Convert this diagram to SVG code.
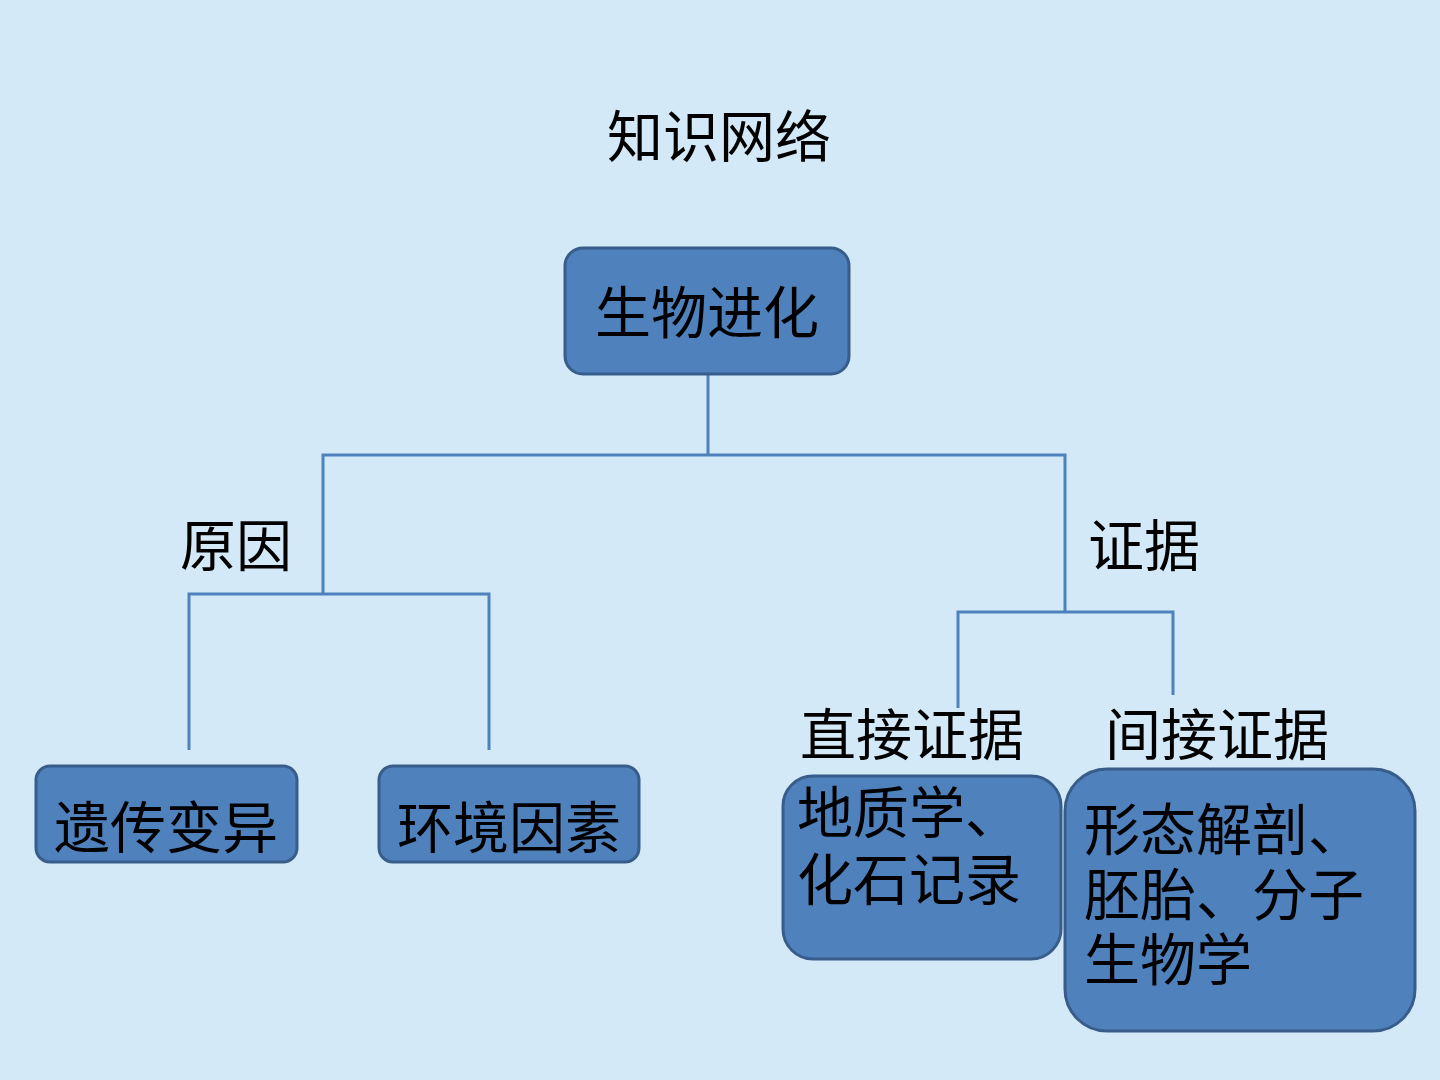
<svg xmlns="http://www.w3.org/2000/svg" width="1440" height="1080" viewBox="0 0 1440 1080">
<defs>
<style>
.bg{fill:#d3e9f7}
.box{fill:#4f81bd;stroke:#385d8a;stroke-width:3}
.t{font-family:"Noto Sans CJK SC","Noto Sans",sans-serif;font-size:56px;fill:#000}
.ln{stroke:#4f81bd;stroke-width:3;fill:none}
</style>
<pattern id="tex" width="6" height="6" patternUnits="userSpaceOnUse">
<rect width="6" height="6" fill="#d1e8f7"/>
<rect x="0" y="0" width="2" height="4" fill="#e0f0fb"/>
<rect x="3" y="2" width="2" height="4" fill="#c4e0f3"/>
</pattern>
</defs>
<rect class="bg" x="0" y="0" width="1440" height="1080" fill="url(#tex)"/>
<text class="t" x="719" y="157" text-anchor="middle">知识网络</text>
<g id="connectors">
<polyline class="ln" points="708,374 708,455"/>
<polyline class="ln" points="323,594 323,455 1065,455 1065,612"/>
<polyline class="ln" points="189,750 189,594 489,594 489,750"/>
<polyline class="ln" points="958,708 958,612 1173,612 1173,695"/>
</g>
<g id="label-yuanyin"><text class="t" x="180" y="566">原因</text></g>
<g id="label-zhengju"><text class="t" x="1088" y="566">证据</text></g>
<g id="label-zhijie"><text class="t" x="800" y="755">直接证据</text></g>
<g id="label-jianjie"><text class="t" x="1105" y="755">间接证据</text></g>
<g id="node-root">
<rect class="box" x="565" y="248" width="284" height="126" rx="18"/>
<text class="t" x="707" y="333" text-anchor="middle">生物进化</text>
</g>
<g id="node-yichuan">
<rect class="box" x="36" y="766" width="261" height="96" rx="14"/>
<text class="t" x="166" y="848" text-anchor="middle">遗传变异</text>
</g>
<g id="node-huanjing">
<rect class="box" x="379" y="766" width="260" height="96" rx="14"/>
<text class="t" x="509" y="848" text-anchor="middle">环境因素</text>
</g>
<g id="node-dizhi">
<rect class="box" x="783" y="776" width="278" height="183" rx="30"/>
<text class="t"><tspan x="797" y="833">地质学、</tspan><tspan x="797" y="900">化石记录</tspan></text>
</g>
<g id="node-xingtai">
<rect class="box" x="1065" y="769" width="350" height="262" rx="42"/>
<text class="t"><tspan x="1084" y="850">形态解剖、</tspan><tspan x="1084" y="915">胚胎、分子</tspan><tspan x="1084" y="980">生物学</tspan></text>
</g>
</svg>
